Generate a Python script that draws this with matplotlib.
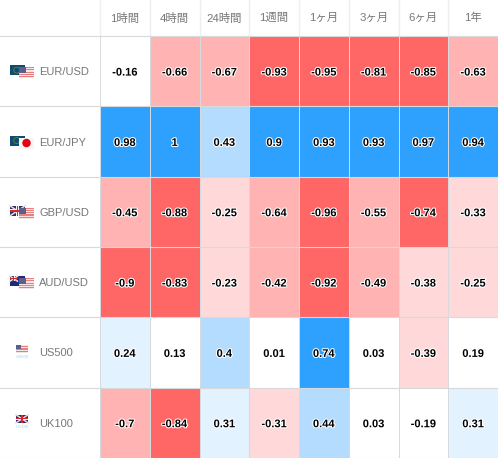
import numpy as np
import matplotlib
matplotlib.use('Agg')
import matplotlib.pyplot as plt
import matplotlib.patheffects as pe
from matplotlib.colors import ListedColormap, BoundaryNorm
from matplotlib.patches import Rectangle, Circle

periods = ['1時間', '4時間', '24時間', '1週間', '1ヶ月', '3ヶ月', '6ヶ月', '1年']
symbols = ['EUR/USD', 'EUR/JPY', 'GBP/USD', 'AUD/USD', 'US500', 'UK100']
values = [
    [-0.16, -0.66, -0.67, -0.93, -0.95, -0.81, -0.85, -0.63],
    [0.98, 1, 0.43, 0.9, 0.93, 0.93, 0.97, 0.94],
    [-0.45, -0.88, -0.25, -0.64, -0.96, -0.55, -0.74, -0.33],
    [-0.9, -0.83, -0.23, -0.42, -0.92, -0.49, -0.38, -0.25],
    [0.24, 0.13, 0.4, 0.01, 0.74, 0.03, -0.39, 0.19],
    [-0.7, -0.84, 0.31, -0.31, 0.44, 0.03, -0.19, 0.31],
]
bounds = [-1.01, -0.7001, -0.4, -0.2, 0.2, 0.4, 0.7, 1.01]
colors = ['#ff6666', '#ffb3b3', '#ffd9d9', '#ffffff', '#e3f2ff', '#b3dcff', '#2ea1ff']

FONT = ['Liberation Sans', 'Noto Sans CJK JP', 'DejaVu Sans']
W, H = 498, 458
TOP = 36
LEFT = 100
GREY = '#777777'

fig = plt.figure(figsize=(W / 100, H / 100), dpi=100)

# cells
ax = fig.add_axes([LEFT / W, 0, (W - LEFT) / W, (H - TOP) / H])
data = np.array(values)
ax.pcolormesh(data, cmap=ListedColormap(colors), norm=BoundaryNorm(bounds, len(colors)),
              edgecolors='#d6d9dd', linewidth=0.6)
ax.set_ylim(len(symbols), 0)
ax.set_xlim(0, len(periods))
ax.axis('off')
for r in range(len(symbols)):
    for c in range(len(periods)):
        ax.text(c + 0.5, r + 0.52, f'{values[r][c]:g}', ha='center', va='center',
                fontsize=8, fontweight='bold', family=FONT, color='black',
                path_effects=[pe.withStroke(linewidth=1.5, foreground='white')])

# header, labels and flags, in pixels
ov = fig.add_axes([0, 0, 1, 1], zorder=3)
ov.set_xlim(0, W)
ov.set_ylim(H, 0)
ov.axis('off')
ov.patch.set_alpha(0)

col_w = (W - LEFT) / len(periods)
row_h = (H - TOP) / len(symbols)
for i, p in enumerate(periods):
    ov.text(LEFT + (i + 0.5) * col_w, 18, p, ha='center', va='center', fontsize=8.2,
            family=FONT, color=GREY)
    ov.plot([LEFT + i * col_w] * 2, [0, TOP], color='#eeeeee', lw=1)
for j in range(len(symbols) + 1):
    ov.plot([0, W], [TOP + j * row_h] * 2, color='#d9d9d9', lw=0.8)


def rect(x, y, w, h, color, z=4):
    ov.add_patch(Rectangle((x, y), w, h, facecolor=color, edgecolor='none', zorder=z))


def flag_us(x, y, w, h, z):
    rect(x, y, w, h, '#f7e4e4', z)
    for k in range(5):
        rect(x, y + k * h / 5, w, h / 10, '#e77f7f', z)
    rect(x, y, w * 0.45, h * 0.55, '#5a5f8c', z)


def flag_eu(x, y, w, h, z):
    rect(x, y, w, h, '#0f4c6f', z)
    ov.add_patch(Circle((x + w * 0.45, y + h * 0.5), h * 0.3, fill=False,
                        edgecolor='#6f8f3f', lw=0.5, zorder=z))


def flag_jp(x, y, w, h, z):
    rect(x, y, w, h, '#f6f6f6', z)
    ov.add_patch(Circle((x + w / 2, y + h / 2), h * 0.32, color='#e60012', zorder=z))


def flag_gb(x, y, w, h, z):
    rect(x, y, w, h, '#2a2f6d', z)
    ov.plot([x, x + w], [y, y + h], color='#f0d8d8', lw=1.1, zorder=z)
    ov.plot([x, x + w], [y + h, y], color='#f0d8d8', lw=1.1, zorder=z)
    rect(x + w * 0.38, y, w * 0.24, h, '#f5f5f5', z)
    rect(x, y + h * 0.36, w, h * 0.28, '#f5f5f5', z)
    rect(x + w * 0.44, y, w * 0.12, h, '#d8232a', z)
    rect(x, y + h * 0.43, w, h * 0.14, '#d8232a', z)


def flag_au(x, y, w, h, z):
    rect(x, y, w, h, '#1b2a7a', z)
    flag_gb(x, y, w * 0.5, h * 0.5, z)


pairs = [(flag_eu, flag_us), (flag_eu, flag_jp), (flag_gb, flag_us), (flag_au, flag_us)]
for j, s in enumerate(symbols):
    cy = TOP + (j + 0.5) * row_h
    ov.text(39, cy + 1, s, ha='left', va='center', fontsize=8, family=FONT, color=GREY)
    if j < 4:
        back, front = pairs[j]
        back(10, cy - 6, 15, 10, 4)
        front(19, cy - 4, 15, 11, 5)
    else:
        (flag_us if j == 4 else flag_gb)(16, cy - 8, 12, 8, 4)
        ov.text(22, cy + 4.5, s, ha='center', va='center', fontsize=3.2, family=FONT, color='#8fdcf5')

fig.savefig('out.png', dpi=100)
